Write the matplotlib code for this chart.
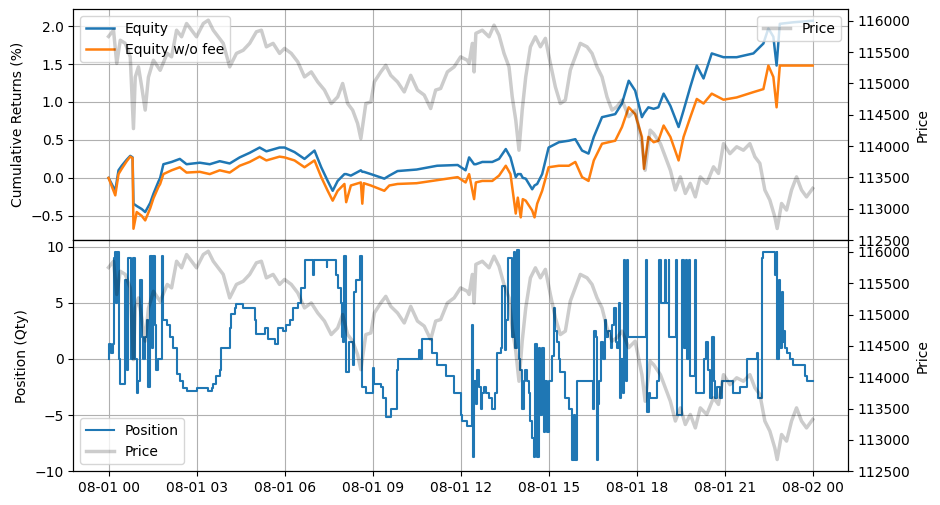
import matplotlib
matplotlib.use("Agg")
import matplotlib.pyplot as plt
import matplotlib.dates as mdates
import pandas as pd

# hours after 2025-08-01 00:00
eq_hours = [0.0, 0.23, 0.34, 0.45, 0.62, 0.74, 0.82, 0.85, 0.96, 1.13, 1.25, 1.42,
            1.53, 1.70, 1.76, 1.87, 2.15, 2.43, 2.66, 3.11, 3.45, 3.79, 4.13, 4.47,
            4.81, 5.15, 5.38, 5.83, 6.0, 6.34, 6.68, 7.02, 7.25, 7.47, 7.64, 7.81,
            8.04, 8.1, 8.26, 8.6, 8.65, 8.7, 8.94, 9.4, 9.57, 9.85, 10.5, 11.2,
            11.9, 12.17, 12.29, 12.46, 12.52, 12.74, 13.08, 13.31, 13.54, 13.7,
            13.88, 13.95, 14.05, 14.12, 14.22, 14.44, 14.52, 14.61, 14.78, 15.0,
            15.35, 15.69, 15.91, 16.14, 16.36, 16.54, 16.82, 17.27, 17.5, 17.73,
            17.95, 18.18, 18.25, 18.4, 18.58, 18.74, 18.92, 19.15, 19.43, 19.6,
            19.83, 20.05, 20.28, 20.56, 20.96, 21.41, 21.98, 22.32, 22.49, 22.66,
            22.77, 22.88, 23.34, 24.0]
equity = [0.0, -0.17, 0.10, 0.16, 0.24, 0.29, 0.27, -0.34, -0.37, -0.41, -0.45, -0.33,
          -0.21, -0.05, 0.0, 0.18, 0.21, 0.25, 0.18, 0.20, 0.18, 0.22, 0.19, 0.27,
          0.33, 0.40, 0.35, 0.40, 0.40, 0.34, 0.25, 0.36, 0.14, -0.04, -0.17, -0.04,
          0.05, 0.05, 0.03, 0.10, 0.08, 0.08, 0.05, -0.01, 0.03, 0.09, 0.11, 0.16,
          0.17, 0.10, 0.27, 0.18, 0.18, 0.21, 0.21, 0.25, 0.38, 0.27,
          0.01, 0.05, 0.05, 0.0, -0.01, -0.15, -0.10, -0.08, 0.05, 0.40,
          0.47, 0.49, 0.51, 0.36, 0.32, 0.54, 0.80, 0.84, 0.98, 1.28,
          1.15, 0.80, 0.85, 0.93, 0.91, 0.93, 1.11, 0.95, 0.67, 0.89,
          1.20, 1.48, 1.31, 1.64, 1.59, 1.59, 1.64, 1.77, 1.97, 1.86,
          1.48, 2.03, 2.05, 2.07]
equity_nofee = [0.0, -0.23, 0.05, 0.12, 0.22, 0.28, 0.26, -0.67, -0.45, -0.50, -0.56, -0.40,
                -0.27, -0.12, -0.08, 0.05, 0.10, 0.14, 0.07, 0.08, 0.05, 0.10, 0.07, 0.16,
                0.21, 0.28, 0.23, 0.28, 0.27, 0.23, 0.14, 0.23, 0.01, -0.17, -0.30, -0.17,
                -0.08, -0.32, -0.10, -0.06, -0.34, -0.07, -0.10, -0.17, -0.10, -0.08, -0.07, -0.03,
                0.01, -0.06, 0.05, -0.28, -0.06, -0.04, -0.04, 0.03, 0.16, 0.05,
                -0.47, -0.26, -0.52, -0.28, -0.30, -0.43, -0.52, -0.34, -0.17, 0.14,
                0.16, 0.16, 0.21, 0.01, -0.04, 0.23, 0.45, 0.49, 0.67, 0.93,
                0.84, 0.54, 0.12, 0.54, 0.47, 0.49, 0.69, 0.54, 0.23, 0.54,
                0.80, 1.04, 0.98, 1.11, 1.03, 1.06, 1.13, 1.17, 1.48, 1.33,
                0.93, 1.48, 1.48, 1.48]

price_hours = [0.0, 0.17, 0.28, 0.40, 0.57, 0.74, 0.85, 0.91, 1.02, 1.13, 1.25, 1.36,
               1.53, 1.76, 2.0, 2.15, 2.32, 2.49, 2.66, 2.83, 3.0, 3.23, 3.40, 3.57,
               3.74, 3.91, 4.13, 4.36, 4.59, 4.81, 5.04, 5.21, 5.38, 5.61, 5.83, 6.0,
               6.23, 6.45, 6.68, 6.91, 7.13, 7.36, 7.59, 7.81, 7.98, 8.15, 8.32, 8.49,
               8.60, 8.77, 8.94, 9.06, 9.28, 9.45, 9.62, 9.85, 10.08, 10.3, 10.53, 10.76,
               10.98, 11.15, 11.32, 11.55, 11.78, 12.0, 12.23, 12.29, 12.40, 12.46, 12.52,
               12.74, 12.97, 13.14, 13.31, 13.48, 13.65, 13.76, 13.88, 13.99, 14.1, 14.22,
               14.38, 14.55, 14.72, 14.89, 15.06, 15.23, 15.4, 15.57, 15.74, 15.91, 16.08,
               16.31, 16.48, 16.65, 16.82, 16.99, 17.16, 17.33, 17.5, 17.73, 17.95, 18.18,
               18.29, 18.46, 18.58, 18.81, 18.98, 19.15, 19.32, 19.49, 19.66, 19.83, 20.0,
               20.17, 20.39, 20.62, 20.79, 20.96, 21.18, 21.41, 21.64, 21.86, 22.03, 22.2,
               22.37, 22.54, 22.71, 22.79, 22.94, 23.11, 23.28, 23.45, 23.62, 23.79, 24.0]
price = [115750, 115850, 115320, 115690, 115640, 115425, 114280, 115100, 115265, 114950, 114575, 115100,
         115370, 115210, 115480, 115425, 115850, 115745, 115957, 115850, 115745, 115957, 116010, 115850,
         115745, 115640, 115265, 115480, 115530, 115640, 115825, 115850, 115585, 115640, 115480, 115560,
         115480, 115345, 115105, 115185, 115025, 114895, 114680, 114785, 115000, 114680, 114575, 114360,
         114120, 114680, 114705, 115025, 115185, 115290, 115130, 115025, 114865, 115130, 114895, 114815,
         114600, 114895, 114920, 115185, 115265, 115425, 115370, 115320, 115640, 115185, 115800,
         115850, 115745, 115930, 115770, 115480, 115265, 114785, 114415, 113935, 114575, 115105,
         115585, 115745, 115585, 115720, 115320, 114945, 114680, 114735, 115215, 115425, 115640,
         115585, 115480, 115265, 115105, 114785, 114575, 114630, 114735, 114470, 114575, 114040,
         113615, 114255, 114200, 114040, 113830, 113615, 113300, 113510, 113245, 113405, 113190,
         113510, 113405, 113670, 113565, 114040, 113880, 113990, 113935, 114040, 113830, 113725,
         113300, 113140, 112870, 112685, 113085, 112980, 113300, 113510, 113300, 113190, 113325]

pos_hours = [0.0, 0.03, 0.08, 0.14, 0.17, 0.23, 0.26, 0.28, 0.34, 0.40, 0.57, 0.62,
             0.68, 0.76, 0.85, 0.91, 0.96, 1.02, 1.08, 1.13, 1.19, 1.25, 1.30, 1.36,
             1.42, 1.47, 1.53, 1.59, 1.62, 1.67, 1.81, 1.87, 1.98, 2.1, 2.21, 2.32,
             2.44, 2.55, 2.66, 3.03, 3.4, 3.51, 3.57, 3.68, 3.8, 3.85, 4.13, 4.19,
             4.3, 4.36, 4.59, 4.98, 5.04, 5.32, 5.44, 5.66, 5.77, 5.94, 6.06, 6.17,
             6.29, 6.46, 6.57, 6.68, 6.96, 7.02, 7.44, 7.46, 7.76, 7.81, 7.93, 7.96,
             8.0, 8.04, 8.1, 8.2, 8.32, 8.38, 8.44, 8.58, 8.63, 8.77, 9.0, 9.06,
             9.28, 9.34, 9.45, 9.62, 9.83, 9.87, 10.59, 10.62, 10.68, 11.04, 11.18, 11.49,
             11.78, 12.0, 12.06, 12.23, 12.4, 12.43, 12.47, 12.51, 12.57, 12.63, 12.68, 12.74,
             12.8, 12.85, 12.97, 13.08, 13.17, 13.25, 13.36, 13.42, 13.51, 13.55, 13.62, 13.76,
             13.81, 13.87, 13.93, 13.98, 14.02, 14.1, 14.15, 14.21, 14.27, 14.32, 14.38, 14.44,
             14.49, 14.55, 14.61, 14.66, 14.72, 14.78, 14.83, 14.89, 14.95, 15.0, 15.12, 15.17,
             15.23, 15.29, 15.34, 15.4, 15.57, 15.68, 15.8, 15.85, 15.91, 15.97, 16.5, 16.54,
             16.6, 16.65, 16.69, 16.73, 16.79, 16.85, 16.91, 16.96, 17.03, 17.11, 17.16, 17.22,
             17.28, 17.33, 17.39, 17.45, 17.48, 17.52, 17.56, 17.59, 17.64, 17.67, 17.71, 18.32,
             18.36, 18.41, 18.46, 18.69, 18.75, 18.77, 18.82, 18.95, 18.99, 19.09, 19.12, 19.34,
             19.37, 19.56, 19.61, 19.68, 19.72, 19.79, 19.83, 19.99, 20.04, 20.31, 20.36, 20.42,
             20.5, 20.58, 20.64, 20.67, 20.73, 20.84, 20.9, 21.3, 21.52, 21.75, 22.09, 22.15,
             22.28, 22.31, 22.71, 22.77, 22.8, 22.85, 22.89, 22.94, 22.99, 23.03, 23.07, 23.14,
             23.22, 23.33, 23.75, 23.82, 24.0]
position = [0.0, 1.3, 0.5, 1.3, 9.0, 9.5, 5.0, 9.5, 0.0, -2.2, 7.0, -1.0,
            9.0, 0.0, 9.0, 0.0, -3.0, -2.0, 7.0, 2.0, 0.0, 2.0, 3.5, -2.5,
            9.2, 1.0, 9.2, 3.0, -1.0, 0.0, 9.2, 3.5, 3.0, 2.0, 1.0, -1.3,
            -2.0, -2.6, -2.9, -2.6, -2.9, -2.6, -2.2, -1.5, -1.0, 1.0, 2.8, 4.0,
            4.5, 4.9, 4.5, 3.5, 2.2, 2.8, 1.8, 1.3, 2.8, 2.5, 3.0, 3.5,
            4.5, 5.0, 6.3, 8.8, 7.5, 8.8, 8.2, 8.8, 7.5, 6.3, 5.0, 2.0,
            1.5, 9.2, -1.2, 1.5, -0.5, 6.0, 7.0, 9.2, -2.5, -3.0, -0.8, -2.2,
            -2.5, -3.5, -5.2, -4.5, -1.0, 0.0, 0.8, 0.0, 1.8, 0.5, -0.5, -1.5,
            -3.0, -5.0, -5.5, -6.0, 3.0, -8.7, -2.0, -4.0, -1.0, -2.5, -4.5, -3.0,
            -2.5, -3.0, -3.5, -4.5, -3.0, 0.5, 1.0, 6.5, 0.8, 3.5, 9.0, 2.0,
            9.5, 1.0, 9.7, 0.0, -1.0, -4.5, -2.0, -1.0, -2.0, -3.0, -5.5, -7.0,
            -8.7, 1.3, -8.7, 1.0, -5.0, 1.0, -6.5, -2.0, -6.5, -2.0, 0.3, 4.5,
            2.5, 1.5, 0.0, -1.2, -3.5, -4.5, -9.0, -5.0, -9.0, -2.0, -4.5, 2.5,
            2.0, -9.0, -4.0, -2.0, 1.5, 0.0, 3.5, 2.0, 2.5, 1.0, 3.0, 4.5,
            1.5, 1.0, 5.0, -3.5, 0.0, -3.0, 8.8, 1.0, -2.0, 8.8, 2.0, 8.8,
            -4.7, -3.0, -3.5, -2.0, 0.0, 8.8, 5.0, 8.8, 5.0, 8.8, 2.0, 8.8,
            -5.0, 8.8, 1.0, 8.8, 0.0, 8.8, -1.5, 8.8, -3.0, 0.0, 1.5, -1.0,
            -3.5, 2.0, -2.0, -3.5, -2.5, -3.5, -2.0, -3.0, -2.5, 0.0, 0.5, -3.5,
            9.0, 9.5, 7.5, 9.5, 0.0, 7.0, 1.0, 6.0, 1.5, 2.5, 1.0, 0.5,
            0.0, -0.5, -1.5, -2.0, -2.0]

base = pd.Timestamp("2025-08-01")
t_eq = base + pd.to_timedelta(eq_hours, unit="h")
t_px = base + pd.to_timedelta(price_hours, unit="h")
t_pos = base + pd.to_timedelta(pos_hours, unit="h")

fig, (ax1, ax2) = plt.subplots(2, 1, sharex=True, figsize=(9.4, 5.05), dpi=100)
fig.subplots_adjust(left=0.078, right=0.902, top=0.982, bottom=0.067, hspace=0)

# top: returns + price
ax1.plot(t_eq, equity, color="#1f77b4", lw=1.8, label="Equity")
ax1.plot(t_eq, equity_nofee, color="#ff7f0e", lw=1.8, label="Equity w/o fee")
ax1.set_ylabel("Cumulative Returns (%)")
ax1.set_ylim(-0.82, 2.224)
ax1.grid(True)
ax1.legend(loc="upper left")

ax1r = ax1.twinx()
ax1r.plot(t_px, price, color="k", alpha=0.2, lw=2.5, label="Price")
ax1r.set_ylim(112500, 116187)
ax1r.set_ylabel("Price")
ax1r.legend(loc="upper right")

# bottom: position + price
ln1 = ax2.plot(t_pos, position, color="#1f77b4", lw=1.5, drawstyle="steps-post",
               label="Position")
ax2.set_ylabel("Position (Qty)")
ax2.set_ylim(-10, 10.59)
ax2.grid(True)

ax2r = ax2.twinx()
ln2 = ax2r.plot(t_px, price, color="k", alpha=0.2, lw=2.5, label="Price")
ax2r.set_ylim(112500, 116187)
ax2r.set_ylabel("Price")
ax2r.legend(ln1 + ln2, [l.get_label() for l in ln1 + ln2], loc="lower left")

ax2.xaxis.set_major_locator(mdates.HourLocator(byhour=range(0, 24, 3)))
ax2.xaxis.set_major_formatter(mdates.DateFormatter("%m-%d %H"))

fig.savefig("out.png", dpi=100)
